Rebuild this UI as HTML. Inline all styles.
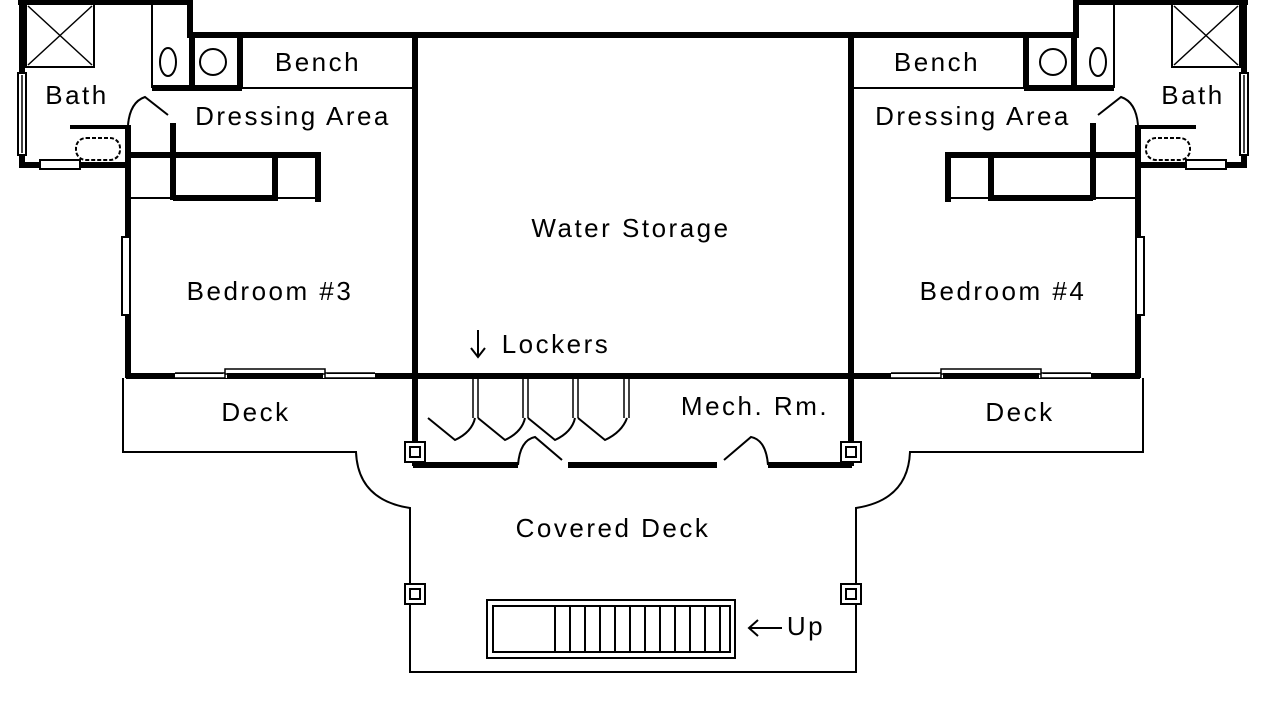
<!DOCTYPE html>
<html><head><meta charset="utf-8"><style>
html,body{margin:0;padding:0;background:#fff;}
svg{display:block;}
text{font-family:"Liberation Sans",sans-serif;font-size:26px;letter-spacing:2.5px;fill:#000;text-anchor:middle;}
</style></head><body>
<svg width="1280" height="720" viewBox="0 0 1280 720" xmlns="http://www.w3.org/2000/svg">
<defs>
<g id="wing" fill="none" stroke="#000">
  <path d="M18 2 H190 V35 H418" stroke-width="6"/>
  <path d="M22 0 V165 H128" stroke-width="6"/>
  <rect x="18" y="73" width="8" height="82" fill="#fff" stroke-width="2"/>
  <line x1="22" y1="75" x2="22" y2="153" stroke-width="1.5"/>
  <rect x="40" y="160" width="40" height="9" fill="#fff" stroke-width="2"/>
  <rect x="26" y="4" width="68" height="63" stroke-width="2"/>
  <path d="M28 6 L92 65 M92 6 L28 65" stroke-width="1.5"/>
  <path d="M70 127 H128" stroke-width="4"/>
  <rect x="76" y="138" width="44" height="22" rx="10" stroke-width="2" stroke-dasharray="4 2"/>
  <path d="M152 2 V88" stroke-width="2"/>
  <path d="M152 88 H242" stroke-width="6"/>
  <path d="M192 35 V88 M240 35 V88" stroke-width="6"/>
  <ellipse cx="168" cy="62" rx="8" ry="14" stroke-width="2"/>
  <circle cx="213" cy="62" r="13" stroke-width="2"/>
  <path d="M240 88 H415" stroke-width="2"/>
  <path d="M128 125 V378" stroke-width="6"/>
  <path d="M128 125 Q130 102 145 97 L168 115" stroke-width="2"/>
  <path d="M173 123 V200" stroke-width="6"/>
  <path d="M128 155 H173" stroke-width="6"/>
  <path d="M173 155 H270 M270 155 H318 V202" stroke-width="6"/>
  <path d="M173 198 H275 V155" stroke-width="6"/>
  <path d="M130 198 H173 M275 198 H315" stroke-width="2"/>
  <rect x="122" y="237" width="8" height="78" fill="#fff" stroke-width="2"/>
  <path d="M126 376 H415" stroke-width="6"/>
  <path d="M175 376 H225 V370 H325 V376 H375" stroke="#fff" stroke-width="4"/>
  <path d="M175 373 H225 V369 H325 V373 H375 M175 378 H225 V374 H325 V378 H375" stroke-width="1.5"/>
  <path d="M415 35 V466" stroke-width="6"/>
  <path d="M123 378 V452 H356 Q358 500 410 508 V672 H634" stroke-width="2"/>
  <rect x="405" y="442" width="20" height="20" fill="#fff" stroke-width="2"/>
  <rect x="410" y="447" width="10" height="10" stroke-width="2"/>
  <rect x="405" y="584" width="20" height="20" fill="#fff" stroke-width="2"/>
  <rect x="410" y="589" width="10" height="10" stroke-width="2"/>
</g>
</defs>
<use href="#wing"/>
<use href="#wing" transform="translate(1266,0) scale(-1,1)"/>
<g fill="none" stroke="#000">
  <path d="M418 35 H850" stroke-width="6"/>
  <path d="M415 376 H851" stroke-width="6"/>
  <path d="M413 465 H518 M568 465 H717 M768 465 H852" stroke-width="6"/>
  <path d="M518 465 Q520 440 535 437 L562 460" stroke-width="2"/>
  <path d="M768 465 Q766 440 751 437 L724 460" stroke-width="2"/>
  <path d="M473 379 V418 M478 379 V418 M523 379 V418 M528 379 V418 M573 379 V418 M578 379 V418 M624 379 V418 M629 379 V418" stroke-width="1.5"/>
  <path d="M428 418 L455 440 Q472 432 475 418 M478 418 L505 440 Q522 432 525 418 M528 418 L555 440 Q572 432 575 418 M578 418 L605 440 Q622 432 627 418" stroke-width="2"/>
  <path d="M478 330 V357 M471 348 L478 357 L485 348" stroke-width="2"/>
  <rect x="487" y="600" width="248" height="58" stroke-width="2"/>
  <rect x="493" y="606" width="237" height="46" stroke-width="2"/>
  <path d="M555 606 V652 M570 606 V652 M585 606 V652 M600 606 V652 M615 606 V652 M630 606 V652 M645 606 V652 M660 606 V652 M675 606 V652 M690 606 V652 M705 606 V652 M720 606 V652" stroke-width="2"/>
  <path d="M749 628 H782 M758 620 L749 628 L758 636" stroke-width="2"/>
</g>
<text x="318" y="71">Bench</text>
<text x="293" y="125">Dressing Area</text>
<text x="77" y="104">Bath</text>
<text x="270" y="300">Bedroom #3</text>
<text x="256" y="421">Deck</text>
<text x="937" y="71">Bench</text>
<text x="973" y="125">Dressing Area</text>
<text x="1193" y="104">Bath</text>
<text x="1003" y="300">Bedroom #4</text>
<text x="1020" y="421">Deck</text>
<text x="631" y="237">Water Storage</text>
<text x="556" y="353">Lockers</text>
<text x="755" y="415">Mech. Rm.</text>
<text x="613" y="537">Covered Deck</text>
<text x="806" y="635">Up</text>
</svg>
</body></html>
